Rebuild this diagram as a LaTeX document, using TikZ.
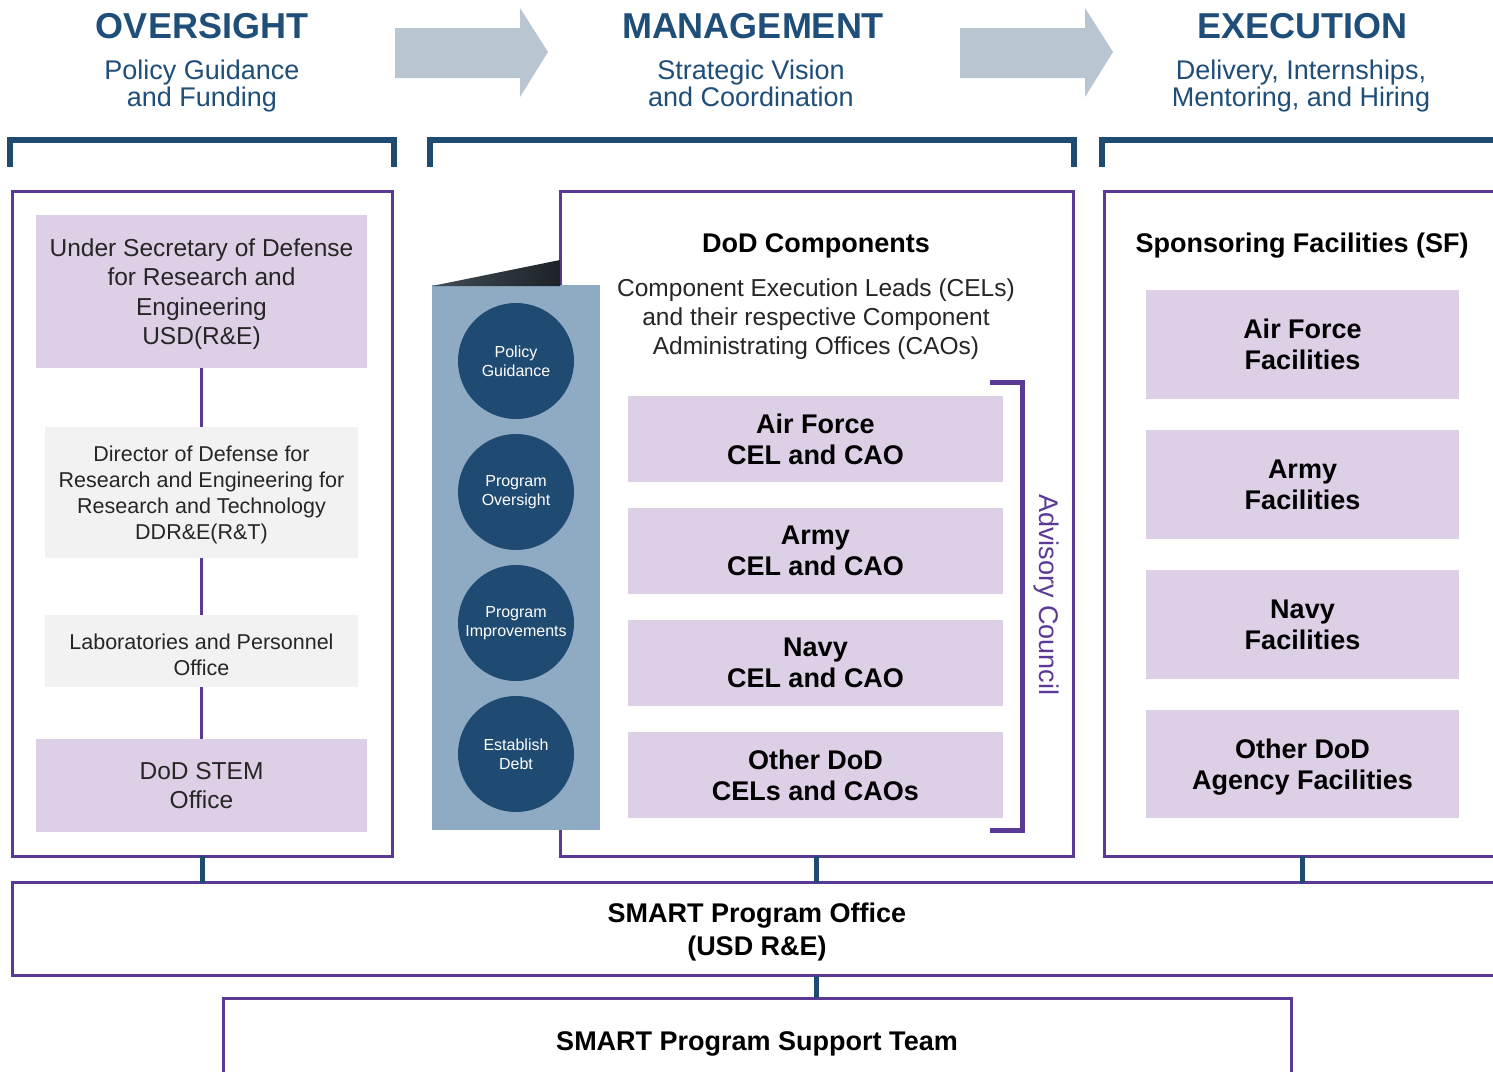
\documentclass[tikz,border=0pt]{standalone}
\usepackage{fontspec}
\setmainfont{Liberation Sans}
\definecolor{hdrblue}{HTML}{1F4E79}
\definecolor{dkblue}{HTML}{1F4A72}
\definecolor{purp}{HTML}{5B3A96}
\definecolor{lav}{HTML}{DDD0E6}
\definecolor{lgray}{HTML}{F2F2F2}
\definecolor{arrowgray}{HTML}{B9C6D2}
\definecolor{bannerc}{HTML}{8FAAC3}
\definecolor{txt}{HTML}{262626}
\begin{document}
\begin{tikzpicture}[x=1pt,y=-1pt,
  box/.style={rectangle, inner sep=0pt, outer sep=0pt, align=center, text=txt, text depth=0pt},
  lavbox/.style={box, fill=lav},
  graybox/.style={box, fill=lgray},
  frame/.style={box, draw=purp, line width=3pt},
  pline/.style={draw=purp, line width=3.5pt},
  bline/.style={draw=dkblue, line width=5pt},
  brk/.style={draw=dkblue, line width=6pt, line join=miter},
  hdr/.style={text=hdrblue, font=\bfseries\fontsize{36}{40}\selectfont, inner sep=0pt},
  sub/.style={text=hdrblue, align=center, font=\fontsize{27}{27.5}\selectfont, inner sep=0pt, text depth=0pt},
  reg/.style={font=\fontsize{24.5}{29.5}\selectfont},
  small/.style={font=\fontsize{21.5}{26}\selectfont},
  bld/.style={font=\bfseries\fontsize{27}{31}\selectfont, text=black},
  circ/.style={circle, fill=dkblue, minimum size=116pt, inner sep=0pt, text=white, align=center, font=\fontsize{16}{19}\selectfont},
  arr/.style={fill=arrowgray}
]
\useasboundingbox (0,0) rectangle (1493,1071);
\clip (0,0) rectangle (1493,1071);
\fill[white] (0,0) rectangle (1493,1071);

% headers
\node[hdr] (h1) at (202,26) {OVERSIGHT};
\node[hdr] (h2) at (753,26) {MANAGEMENT};
\node[hdr] (h3) at (1302,26) {EXECUTION};
\node[sub] (s1) at (202,83) {Policy Guidance\\and Funding};
\node[sub] (s2) at (751,83) {Strategic Vision\\and Coordination};
\node[sub] (s3) at (1301,83) {Delivery, Internships,\\Mentoring, and Hiring};

% arrows
\fill[arr] (395,28) -- (520,28) -- (520,8) -- (548,52) -- (520,97) -- (520,78) -- (395,78) -- cycle;
\fill[arr] (960,28) -- (1085,28) -- (1085,8) -- (1113,52) -- (1085,97) -- (1085,78) -- (960,78) -- cycle;

% brackets
\draw[brk] (10,167) -- (10,140) -- (394,140) -- (394,167);
\draw[brk] (430,167) -- (430,140) -- (1074,140) -- (1074,167);
\draw[brk] (1102,167) -- (1102,140) -- (1510,140);

% frames
\node[frame, minimum width=380pt, minimum height=665pt] (lframe) at (202,523.5) {};
\node[frame, minimum width=513pt, minimum height=665pt] (mframe) at (816.5,523.5) {};
\node[frame, minimum width=396pt, minimum height=665pt] (rframe) at (1302,523.5) {};
\node[frame, bld, minimum width=1490pt, minimum height=93pt, font=\bfseries\fontsize{27}{33}\selectfont] (office) at (757,929) {SMART Program Office\\(USD R\&E)};
\node[frame, bld, minimum width=1068pt, minimum height=86pt] (team) at (757,1041) {SMART Program Support Team};

% left column
\node[lavbox, reg, minimum width=331pt, minimum height=153pt] (usd) at (201.5,291.5) {Under Secretary of Defense\\for Research and\\Engineering\\USD(R\&E)};
\node[graybox, small, minimum width=313pt, minimum height=131pt] (ddre) at (201.5,492.5) {Director of Defense for\\Research and Engineering for\\Research and Technology\\DDR\&E(R\&T)};
\node[graybox, small, minimum width=313pt, minimum height=72pt] (lab) at (201.5,651) {\rule{0pt}{22pt}Laboratories and Personnel\\Office};
\node[lavbox, reg, minimum width=331pt, minimum height=93pt] (stem) at (201.5,785.5) {DoD STEM\\Office};
\draw[pline] (usd.south) -- (ddre.north);
\draw[pline] (ddre.south) -- (lab.north);
\draw[pline] (lab.south) -- (stem.north);

% middle column
\node[box, fill=bannerc, minimum width=168pt, minimum height=545pt] (banner) at (516,557.5) {};
\shade[left color=black!55!bannerc, right color=black!80!bannerc] (432,286) -- (560,260) -- (560,286) -- cycle;
\node[circ] (c1) at (516,361) {Policy\\Guidance};
\node[circ] (c2) at (516,492) {Program\\Oversight};
\node[circ] (c3) at (516,623) {Program\\Improvements};
\node[circ] (c4) at (516,754) {Establish\\Debt};

\node[box, bld] (dodc) at (816,243) {DoD Components};
\node[box, reg, font=\fontsize{24.5}{29}\selectfont] (cels) at (816,317) {Component Execution Leads (CELs)\\and their respective Component\\Administrating Offices (CAOs)};
\node[lavbox, bld, minimum width=375pt, minimum height=86pt] (af) at (815.5,439) {Air Force\\CEL and CAO};
\node[lavbox, bld, minimum width=375pt, minimum height=86pt] (ar) at (815.5,551) {Army\\CEL and CAO};
\node[lavbox, bld, minimum width=375pt, minimum height=86pt] (nv) at (815.5,663) {Navy\\CEL and CAO};
\node[lavbox, bld, minimum width=375pt, minimum height=86pt] (ot) at (815.5,775) {Other DoD\\CELs and CAOs};
\draw[draw=purp, line width=5pt, line join=miter] (990,382) -- (1022,382) -- (1022,830) -- (990,830);
\node[rotate=-90, text=purp, font=\fontsize{27}{27}\selectfont, inner sep=0pt] (adv) at (1046,595) {Advisory Council};

% right column
\node[box, bld] (sf) at (1302,243) {Sponsoring Facilities (SF)};
\node[lavbox, bld, minimum width=313pt, minimum height=109pt] (faf) at (1302.5,344.5) {Air Force\\Facilities};
\node[lavbox, bld, minimum width=313pt, minimum height=109pt] (far) at (1302.5,484.5) {Army\\Facilities};
\node[lavbox, bld, minimum width=313pt, minimum height=109pt] (fnv) at (1302.5,624.5) {Navy\\Facilities};
\node[lavbox, bld, minimum width=313pt, minimum height=108pt] (fot) at (1302.5,764) {Other DoD\\Agency Facilities};

% connectors to office
\draw[bline] (lframe.south) -- (lframe.south |- office.north);
\draw[bline] (mframe.south) -- (mframe.south |- office.north);
\draw[bline] (rframe.south) -- (rframe.south |- office.north);
\draw[bline] (office.south -| mframe.south) -- (team.north -| mframe.south);
\end{tikzpicture}
\end{document}
